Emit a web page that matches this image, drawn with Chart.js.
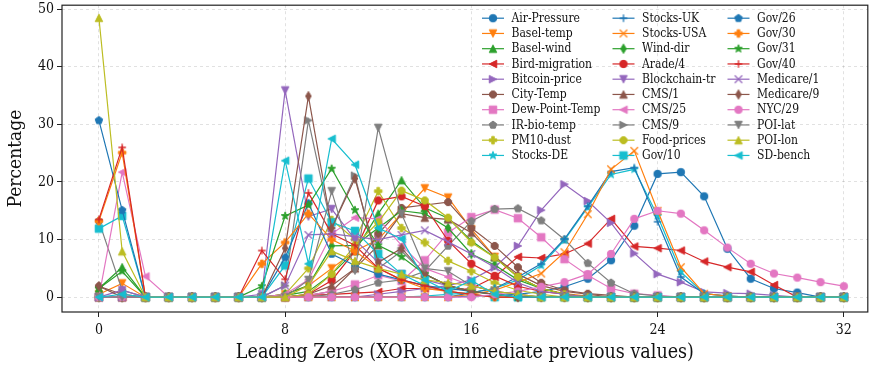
<!DOCTYPE html>
<html><head><meta charset="utf-8">
<script src="https://cdn.jsdelivr.net/npm/chart.js@4.4.1/dist/chart.umd.min.js"></script>
<style>html,body{margin:0;padding:0;background:#fff}#wrap{width:873px;height:369px;position:relative}</style>
</head><body><div id="wrap"><canvas id="c"></canvas></div>
<script>
const leadingZeros = [0,1,2,3,4,5,6,7,8,9,10,11,12,13,14,15,16,17,18,19,20,21,22,23,24,25,26,27,28,29,30,31,32];
const xTickValues = [0,8,16,24,32];
const xTickLabels = ['0','8','16','24','32'];
const yTickValues = [0,10,20,30,40,50];
const yTickLabels = ['0','10','20','30','40','50'];
const seriesNames = ['Air-Pressure','Basel-temp','Basel-wind','Bird-migration','Bitcoin-price','City-Temp','Dew-Point-Temp','IR-bio-temp','PM10-dust','Stocks-DE','Stocks-UK','Stocks-USA','Wind-dir','Arade/4','Blockchain-tr','CMS/1','CMS/25','CMS/9','Food-prices','Gov/10','Gov/26','Gov/30','Gov/31','Gov/40','Medicare/1','Medicare/9','NYC/29','POI-lat','POI-lon','SD-bench'];

const airPressure   = [0,0,0,0,0,0,0,0,0,0,0,0,0,0,0,0,0.2,0.3,0.5,1.0,1.8,3.2,6.4,12.4,21.4,21.7,17.5,8.4,3.2,1.5,0.8,0,0];
const baselTemp     = [0.5,2.4,0,0,0,0,0,0,0.5,2,5,8,10,14.5,18.9,17.3,11.8,7,3.5,1.5,0.6,0.2,0,0,0,0,0,0,0,0,0,0,0];
const baselWind     = [1.5,5.2,0,0,0,0,0,0,0.3,1,4,8,14.5,20.3,15.5,13.7,9.8,6.9,3.5,1.5,0.5,0,0,0,0,0,0,0,0,0,0,0,0];
const birdMigration = [0,0,0,0,0,0,0,0,0,0.3,0.5,0.7,0.9,1.5,1.5,1.2,1.5,3.5,7.0,6.8,7.5,9.3,13.6,8.8,8.5,8.1,6.2,5.2,4.4,2.1,0,0,0];
const bitcoinPrice  = [0,0,0,0,0,0,0,0,0,0,0,0,0.5,1,1.5,2,3,5.2,8.9,15.1,19.6,16.7,12.9,7.6,4.0,2.6,0.9,0.7,0.6,0.3,0,0,0];
const cityTemp      = [1.9,0.5,0,0,0,0,0,0,0,0.3,1,5,11,15.5,16,16.5,12,8.9,5.2,2.5,1.2,0.6,0.3,0,0,0,0,0,0,0,0,0,0];
const dewPointTemp  = [0,0,0,0,0,0,0,0,0,0.3,1,2.2,3.8,2.8,6.4,11.2,13.9,15.2,13.7,10.4,6.6,3.8,1.5,0.6,0.3,0,0,0,0,0,0,0,0];
const irBioTemp     = [13.2,1.2,0,0,0,0,0,0,0,0,0.5,1.3,2.5,3,4.5,8.9,13.2,15.3,15.4,13.3,10.0,5.9,2.5,0.6,0.2,0,0,0,0,0,0,0,0];
const pm10Dust      = [0,0,0,0,0,0,0,0,0.5,5,13.4,10,18.4,12,9.5,6.3,4.5,2.5,1.2,0.5,0,0,0,0,0,0,0,0,0,0,0,0,0];
const stocksDE      = [0,0,0,0,0,0,0,0,0,0,0,0,0,0,0.2,0.5,0.8,1.5,3,5.5,9.9,15.6,21.3,22.2,14.1,4.4,0.6,0.2,0,0,0,0,0];
const stocksUK      = [0,0,0,0,0,0,0,0,0,0,0,0,0,0,0,0,0.8,1.5,3.5,5.8,10.1,15.8,21.8,22.5,13.1,3.5,0.6,0.2,0,0,0,0,0];
const stocksUSA     = [0,0,0,0,0,0,0,0,0,0,0,0,0,0,0,0,0.5,1.2,2.6,4.1,7.8,14.4,22.2,25.4,15.0,5.2,0.6,0.2,0,0,0,0,0];
const windDir       = [0,0,0,0,0,0,0,0,0.5,2,8.9,9,12,15,14.5,12,7.5,5.6,3,1.5,0.5,0,0,0,0,0,0,0,0,0,0,0,0];
const arade4        = [0,0,0,0,0,0,0,0,0,0.5,2.9,8,16.8,17.5,15.8,9.8,5.8,3.7,1.9,1,0.5,0,0,0,0,0,0,0,0,0,0,0,0];
const blockchainTr  = [0,1.2,0,0,0,0,0,0.5,35.9,14,15.3,10,6,4,3,2,1,0.5,0,0,0,0,0,0,0,0,0,0,0,0,0,0,0];
const cms1          = [0,0,0,0,0,0,0,0,0,0.5,2,5,9,14.5,13.8,13.5,11.2,7,4,2,1,0.5,0,0,0,0,0,0,0,0,0,0,0];
const cms25         = [0,21.7,3.6,0,0,0,0,0,0.5,3,11,13.8,13.6,9,5,3.5,2,1,0.5,0,0,0,0,0,0,0,0,0,0,0,0,0,0];
const cms9          = [0,0,0,0,0,0,0,0,2,30.7,12,21.1,5,8,4,2,1,0.5,0,0,0,0,0,0,0,0,0,0,0,0,0,0,0];
const foodPrices    = [0,0,0,0,0,0,0,0,0,0.5,4,9,13,18.5,16.8,13.8,9.5,6.9,3.5,1.5,0.5,0,0,0,0,0,0,0,0,0,0,0,0];
const gov10         = [11.9,14.1,0,0,0,0,0,0,5.5,20.6,13,11.5,7.5,4,2,1,0.5,0,0,0,0,0,0,0,0,0,0,0,0,0,0,0,0];
const gov26         = [30.7,15.1,0,0,0,0,0,0,6.9,16.3,7.5,5.5,4,3,2,1.5,1,0.5,0,0,0,0,0,0,0,0,0,0,0,0,0,0,0];
const gov30         = [13.2,25.1,0,0,0,0,0,5.8,9.5,14.5,10,8,5,3,1.5,1,0.5,0,0,0,0,0,0,0,0,0,0,0,0,0,0,0,0];
const gov31         = [1.5,4.5,0,0,0,0,0,1.9,14.1,16,22.3,15.1,9,7,4,2,1,0.5,0,0,0,0,0,0,0,0,0,0,0,0,0,0,0];
const gov40         = [13.5,26,0,0,0,0,0,8.1,3.1,18.1,11,9,5,3,2,1,0.5,0,0,0,0,0,0,0,0,0,0,0,0,0,0,0,0];
const medicare1     = [0,0,0,0,0,0,0,0,2,10.8,11,10.5,10,10.8,11.6,9.6,7.5,5.2,2.5,1,0.5,0,0,0,0,0,0,0,0,0,0,0,0];
const medicare9     = [1.9,0,0,0,0,0,0,0,8.5,34.9,12,20.6,6,8.5,4,2,1,0.5,0,0,0,0,0,0,0,0,0,0,0,0,0,0,0];
const nyc29         = [0,0,0,0,0,0,0,0,0,0,0,0,0,0,0,0,0,0.5,1.0,1.8,2.6,4.0,7.5,13.6,15.0,14.5,11.6,8.6,5.8,4.1,3.4,2.6,1.9];
const poiLat        = [0,0,0,0,0,0,0,0,0,3,18.4,4.6,29.4,14.5,5,4.5,2,1,0.5,0,0,0,0,0,0,0,0,0,0,0,0,0,0];
const poiLon        = [48.5,7.95,0,0,0,0,0,0,0,2,8,6.3,5,4,3,2.5,2,1,0.5,0,0,0,0,0,0,0,0,0,0,0,0,0,0];
const sdBench       = [0,0.5,0,0,0,0,0,0,23.7,5.8,27.5,23.0,12,10.1,3,1,2.9,0.5,0,0,0,0,0,0,0,0,0,0,0,0,0,0,0];

const seriesValues = [airPressure,baselTemp,baselWind,birdMigration,bitcoinPrice,cityTemp,dewPointTemp,irBioTemp,pm10Dust,stocksDE,stocksUK,stocksUSA,windDir,arade4,blockchainTr,cms1,cms25,cms9,foodPrices,gov10,gov26,gov30,gov31,gov40,medicare1,medicare9,nyc29,poiLat,poiLon,sdBench];

const palette = ['#1f77b4','#ff7f0e','#2ca02c','#d62728','#9467bd','#8c564b','#e377c2','#7f7f7f','#bcbd22','#17becf'];
const markerCycle = ['o','v','^','<','>','8','s','p','P','*','+','x','d'];
const FONT = "'DejaVu Serif Condensed','DejaVu Serif',serif";
const MS = 7.5;

function shapePath(ctx, kind, cx, cy, ms) {
  const h = ms / 2;
  const poly = (pts) => { ctx.moveTo(cx + pts[0][0], cy + pts[0][1]); for (let k = 1; k < pts.length; k++) ctx.lineTo(cx + pts[k][0], cy + pts[k][1]); ctx.closePath(); };
  const regular = (n, r, a0) => { const p = []; for (let k = 0; k < n; k++) { const a = a0 + k * 2 * Math.PI / n; p.push([r * Math.cos(a), r * Math.sin(a)]); } return p; };
  ctx.beginPath();
  switch (kind) {
    case 'o': ctx.arc(cx, cy, h, 0, 2 * Math.PI); break;
    case '8': poly(regular(8, h, Math.PI / 8)); break;
    case '^': poly([[0,-h],[h,h],[-h,h]]); break;
    case 'v': poly([[0,h],[h,-h],[-h,-h]]); break;
    case '<': poly([[-h,0],[h,-h],[h,h]]); break;
    case '>': poly([[h,0],[-h,-h],[-h,h]]); break;
    case 's': ctx.rect(cx - h, cy - h, ms, ms); break;
    case 'p': poly(regular(5, h * 1.05, -Math.PI / 2)); break;
    case 'P': { const a = ms / 6; poly([[-a,-3*a],[a,-3*a],[a,-a],[3*a,-a],[3*a,a],[a,a],[a,3*a],[-a,3*a],[-a,a],[-3*a,a],[-3*a,-a],[-a,-a]]); break; }
    case '*': { const p = []; for (let k = 0; k < 10; k++) { const r = k % 2 ? h * 0.45 : h * 1.1; const a = -Math.PI / 2 + k * Math.PI / 5; p.push([r * Math.cos(a), r * Math.sin(a)]); } poly(p); break; }
    case 'd': { const hh = 0.62 * ms, hw = 0.37 * ms; poly([[0,-hh],[hw,0],[0,hh],[-hw,0]]); break; }
    case '+': ctx.moveTo(cx - h, cy); ctx.lineTo(cx + h, cy); ctx.moveTo(cx, cy - h); ctx.lineTo(cx, cy + h); break;
    case 'x': ctx.moveTo(cx - h, cy - h); ctx.lineTo(cx + h, cy + h); ctx.moveTo(cx - h, cy + h); ctx.lineTo(cx + h, cy - h); break;
  }
}
function makeMarker(kind, color) {
  const c = document.createElement('canvas'); c.width = 16; c.height = 16;
  const ctx = c.getContext('2d');
  shapePath(ctx, kind, 8, 8, MS);
  ctx.strokeStyle = color; ctx.fillStyle = color; ctx.lineWidth = (kind === '+' || kind === 'x') ? 1.3 : 1;
  if (kind !== '+' && kind !== 'x') ctx.fill();
  ctx.stroke();
  return c;
}

const markers = seriesNames.map((n, i) => makeMarker(markerCycle[i % markerCycle.length], palette[i % 10]));

const datasets = seriesNames.map((name, i) => ({
  label: name,
  data: leadingZeros.map((x, j) => ({ x: x, y: seriesValues[i][j] })),
  borderColor: palette[i % 10],
  backgroundColor: palette[i % 10],
  borderWidth: 1.2,
  pointStyle: markers[i],
  pointRadius: 4,
  pointHoverRadius: 4,
  fill: false,
  tension: 0,
  order: seriesNames.length - i
}));

const legendPlugin = {
  id: 'mplLegend',
  afterDatasetsDraw(chart) {
    const ctx = chart.ctx;
    const area = chart.chartArea;
    ctx.save();
    ctx.strokeStyle = '#222'; ctx.lineWidth = 1.2;
    ctx.strokeRect(area.left, area.top, area.right - area.left, area.bottom - area.top);
    ctx.font = '12px ' + FONT; ctx.textBaseline = 'middle'; ctx.textAlign = 'left'; ctx.fillStyle = '#111';
    const colX = [area.left + 420, area.left + 550.5, area.left + 665.5];
    seriesNames.forEach((name, i) => {
      const col = Math.floor(i / 10), row = i % 10;
      const x0 = colX[col], y = area.top + 13 + row * 15.25;
      ctx.strokeStyle = palette[i % 10]; ctx.lineWidth = 1.2;
      ctx.beginPath(); ctx.moveTo(x0, y); ctx.lineTo(x0 + 22, y); ctx.stroke();
      ctx.drawImage(markers[i], x0 + 11 - 8, y - 8);
      ctx.fillText(name, x0 + 29.5, y + 0.5);
    });
    ctx.restore();
  }
};

new Chart(document.getElementById('c'), {
  type: 'line',
  data: { datasets },
  options: {
    responsive: true, maintainAspectRatio: false, animation: false, devicePixelRatio: 1,
    layout: { padding: { top: 2, right: 3, left: 0, bottom: 0 } },
    plugins: { legend: { display: false }, tooltip: { enabled: false } },
    events: [],
    scales: {
      x: {
        type: 'linear', min: -1.585, max: 33.03,
        afterBuildTicks: s => { s.ticks = xTickValues.map(v => ({ value: v })); },
        afterFit: s => { s.height = 57; s.paddingLeft = 0; s.paddingRight = 0; },
        ticks: { callback: (v) => xTickLabels[xTickValues.indexOf(v)], font: { family: FONT, size: 14 }, color: '#111', padding: 5, maxRotation: 0, autoSkip: false },
        grid: { color: 'rgba(0,0,0,0.15)', lineWidth: 0.8, tickLength: 5, tickColor: '#222', tickWidth: 1 },
        border: { display: false, dash: [3, 3] },
        title: { display: true, text: 'Leading Zeros (XOR on immediate previous values)', font: { family: FONT, size: 19.5 }, color: '#111', padding: { top: 0, bottom: 4 } }
      },
      y: {
        type: 'linear', min: -2.577, max: 50.69,
        afterBuildTicks: s => { s.ticks = yTickValues.map(v => ({ value: v })); },
        afterFit: s => { s.width = 62; s.paddingTop = 0; s.paddingBottom = 0; },
        ticks: { callback: (v) => yTickLabels[yTickValues.indexOf(v)], font: { family: FONT, size: 14 }, color: '#111', padding: 3 },
        grid: { color: 'rgba(0,0,0,0.15)', lineWidth: 0.8, tickLength: 5, tickColor: '#222', tickWidth: 1 },
        border: { display: false, dash: [3, 3] },
        title: { display: true, text: 'Percentage', font: { family: FONT, size: 19 }, color: '#111', padding: { top: 5, bottom: 0 } }
      }
    }
  },
  plugins: [legendPlugin]
});
</script>
</body></html>
